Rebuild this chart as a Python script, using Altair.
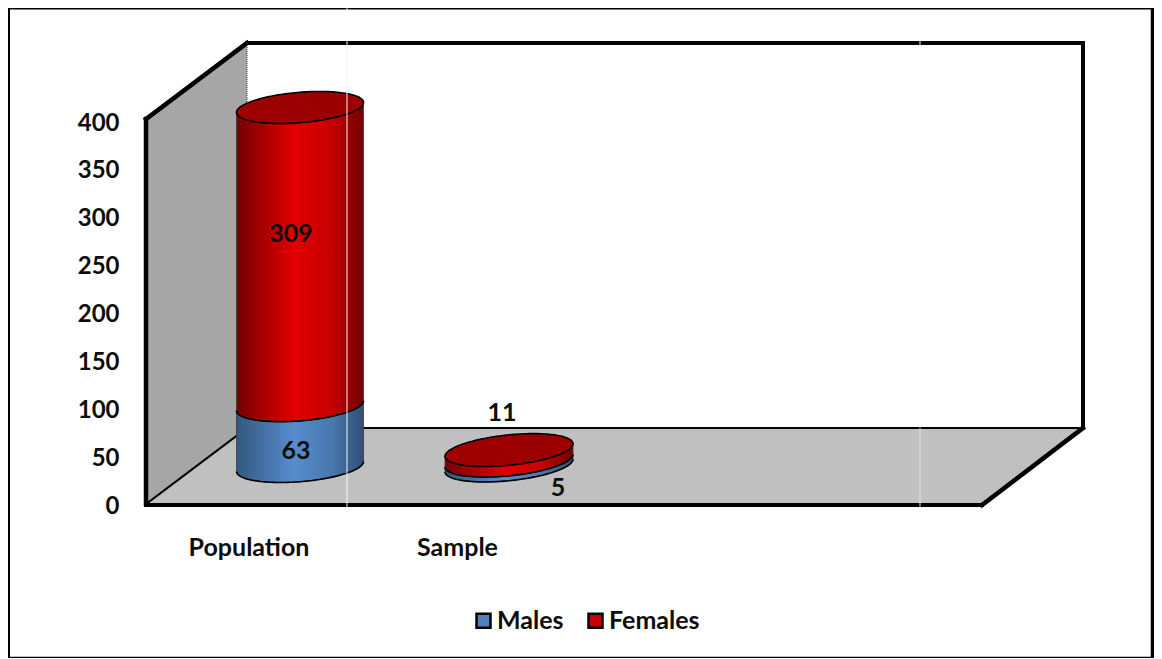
import math
import altair as alt
import pandas as pd

# ---- values ----
categories = ["Population", "Sample"]
males = [63, 5]
females = [309, 11]
series = ["Males", "Females"]
y_ticks = [0, 50, 100, 150, 200, 250, 300, 350, 400]

PX = 0.9575          # pixels per axis unit
STACK = 1.008        # cylinders are slightly nearer than the front axis
FONT = "Lato"
TXT = "#0d0d0d"

def xu(px):
    return px - 146

def yu(py):
    return (504 - py) / PX

# cylinder layout: centre x, base centre y, half width, tilt, half minor axis
layout = {
    "Population": dict(cx=300, base=466.5, a=63.5, tilt=0.078, b=15.2),
    "Sample": dict(cx=509, base=465.5, a=64.0, tilt=0.098, b=15.2),
}

def arc_rows(cat, lo, hi, n=80):
    """Outline of one cylinder segment between two stacked totals."""
    g = layout[cat]
    rows = []
    for i in range(n + 1):
        t = math.pi * (1 - i / n)
        dx = g["a"] * math.cos(t)
        bulge = g["b"] * math.sin(t)
        y_lo = g["base"] - lo * PX * STACK - g["tilt"] * dx
        y_hi = g["base"] - hi * PX * STACK - g["tilt"] * dx
        rows.append(dict(
            cat=cat, i=i, x=xu(g["cx"] + dx),
            bottom=yu(y_lo + bulge), top=yu(y_hi + bulge),
            cap_low=yu(y_hi + bulge), cap_high=yu(y_hi - bulge),
        ))
    return rows

blue_rows, red_rows = [], []
for c, m, f in zip(categories, males, females):
    blue_rows += arc_rows(c, 0, m)
    red_rows += arc_rows(c, m, m + f)
blue_df = pd.DataFrame(blue_rows)
red_df = pd.DataFrame(red_rows)

W, H = 1008, 650
x_scale = alt.Scale(domain=[0, W], range=[0, W], nice=False, zero=False)
y_scale = alt.Scale(domain=[yu(658), yu(8)], nice=False, zero=False)
y_axis = alt.Axis(
    values=y_ticks, title=None, domain=False, ticks=False, grid=False, labelPadding=27,
    labelOffset=2,
    labelFont=FONT, labelFontWeight="bold", labelFontSize=24, labelColor=TXT,
)
X = alt.X("x:Q", scale=x_scale, axis=None)

def Yf(field):
    return alt.Y(f"{field}:Q", scale=y_scale, axis=y_axis)

Yp = Yf("y")

# ---- chart box ----
wall_df = pd.DataFrame(dict(x=[xu(146), xu(247)], y=[yu(504), yu(428)], y2=[yu(119), yu(43)]))
floor_df = pd.DataFrame(dict(
    x=[xu(146), xu(247), xu(982), xu(1083)],
    y=[yu(504), yu(428), yu(428), yu(428)],
    y2=[yu(504), yu(504), yu(504), yu(428)],
))
wall = alt.Chart(wall_df).mark_area(color="#a6a6a6").encode(x=X, y=Yp, y2="y2:Q")
floor = alt.Chart(floor_df).mark_area(color="#c0c0c0").encode(x=X, y=Yp, y2="y2:Q")

def seg(x0, y0, x1, y1, w, col="#000000"):
    return dict(x=xu(x0), y=yu(y0), x2=xu(x1), y2=yu(y1), w=w, col=col)

box_lines = pd.DataFrame([
    seg(8, 8, 1153, 8, 3), seg(8, 8, 8, 657, 4),
    seg(1152.5, 8, 1152.5, 657, 3.5), seg(8, 657.5, 1153, 657.5, 1.5),
    seg(146, 119, 247, 43, 4.5), seg(247, 43, 1083, 43, 4),
    seg(1083, 43, 1083, 428, 4), seg(146, 119, 146, 504, 4.5),
    seg(146, 505, 982, 505, 4), seg(982, 505, 1083, 428, 4.5),
    seg(247, 428, 1083, 428, 2), seg(146, 504, 247, 428, 2),
])
white_lines = pd.DataFrame([
    seg(347, 41, 347, 507, 1, "#f4f4f4"), seg(920, 428, 920, 507, 1, "#e6e6e6"),
    seg(920, 41, 920, 45, 1, "#f4f4f4"), seg(347, 8, 347, 10, 1, "#f4f4f4"),
])

def rules(df):
    return alt.Chart(df).mark_rule(strokeCap="square").encode(
        x=X, x2="x2:Q",
        y=Yp, y2="y2:Q",
        strokeWidth=alt.StrokeWidth("w:Q", scale=None, legend=None),
        color=alt.Color("col:N", scale=None, legend=None),
    )

dotted = alt.Chart(pd.DataFrame(seg(247, 43, 247, 110, 1, "#333333"), index=[0])).mark_rule(
    strokeDash=[1, 1], color="#333333").encode(
    x=X, x2="x2:Q", y=Yp, y2="y2:Q")

# ---- legend carrier (hidden under the wall) ----
legend_df = pd.DataFrame(dict(series=series, x=[xu(200), xu(200)], y=[yu(300), yu(300)]))
legend_layer = alt.Chart(legend_df).mark_point(filled=True, shape="square", size=1, opacity=1).encode(
    x=X, y=Yp,
    color=alt.Color("series:N", scale=alt.Scale(domain=series, range=["#4f81bd", "#c80000"]),
                    sort=series,
                    legend=alt.Legend(
                        title=None, orient="none", legendX=476 - 146 - 5, legendY=622 - 8 - 14,
                        direction="horizontal", symbolType="square", symbolSize=195,
                        symbolStrokeColor="#000000", symbolStrokeWidth=2.5, symbolOpacity=1,
                        labelFont=FONT, labelFontWeight="bold", labelFontSize=25, labelColor=TXT,
                        columnPadding=19, labelOffset=1, symbolOffset=0,
                    )),
)

# ---- cylinders ----
def grad(c0, c1, c2, c3):
    return alt.Gradient(gradient="linear", x1=0, x2=1, y1=0, y2=0, stops=[
        alt.GradientStop(offset=0, color=c0),
        alt.GradientStop(offset=0.45, color=c1),
        alt.GradientStop(offset=0.75, color=c2),
        alt.GradientStop(offset=1, color=c3),
    ])

def body(df, fill):
    return alt.Chart(df).mark_area(fill=fill, stroke="#3a3a3a", strokeWidth=0.8, interpolate="linear").encode(
        x=X, y=Yf("bottom"), y2="top:Q", detail="cat:N")

def arc(df, field):
    return alt.Chart(df).mark_line(color="#000000", strokeWidth=1.6).encode(
        x=X, y=Yf(field), detail="cat:N")

blue_body = body(blue_df, grad("#34587f", "#568cce", "#4a78ae", "#2f4f75"))
red_body = body(red_df, grad("#740000", "#e00000", "#c80000", "#700000"))
cap = alt.Chart(red_df).mark_area(
    fill=grad("#a00000", "#9c0000", "#9a0000", "#a00000"), stroke="#000000", strokeWidth=1.6).encode(
    x=X, y=Yf("cap_low"), y2="cap_high:Q", detail="cat:N")

# ---- texts ----
value_labels = pd.DataFrame(dict(
    t=["309", "63", "11", "5"],
    x=[xu(291), xu(296), xu(502), xu(558)],
    y=[yu(233.5), yu(451), yu(413), yu(488)],
))
cat_labels = pd.DataFrame(dict(
    t=categories, x=[xu(249), xu(457.5)], y=[yu(548), yu(548)],
))
def texts(df):
    return alt.Chart(df).mark_text(
        font=FONT, fontWeight="bold", fontSize=25, color=TXT, align="center", baseline="middle"
    ).encode(x=X, y=Yp, text="t:N")

chart = alt.layer(
    legend_layer, wall, floor, rules(box_lines), dotted,
    blue_body, arc(blue_df, "bottom"), red_body, arc(red_df, "bottom"), cap,
    texts(value_labels), texts(cat_labels), rules(white_lines),
).resolve_scale(color="independent", strokeWidth="independent").properties(
    width=W, height=H,
    padding=dict(left=138, top=0, right=0, bottom=0),
    autosize=alt.AutoSizeParams(type="none"),
    background="#ffffff",
).configure_view(stroke=None)

chart.save("out.html", embed_options={"renderer": "svg", "actions": False})
